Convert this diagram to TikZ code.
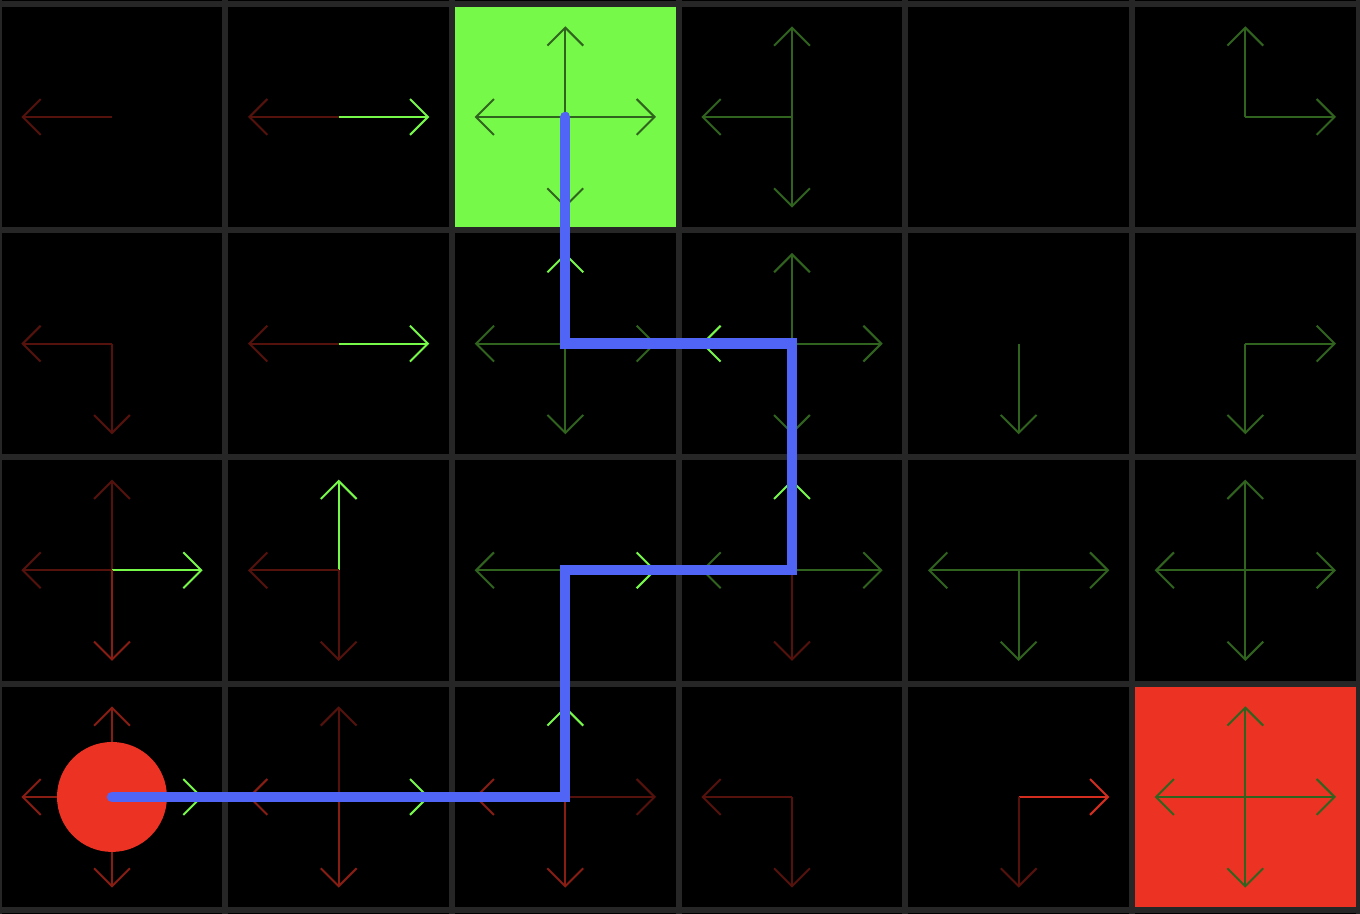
\documentclass[tikz,border=0pt]{standalone}
\usepackage{xcolor}
\usepackage{tikz}
\usetikzlibrary{arrows.meta}

\definecolor{gridgray}{RGB}{38,38,38}
\definecolor{goalgreen}{RGB}{119,249,74}
\definecolor{pitred}{RGB}{235,50,35}
\definecolor{pathblue}{RGB}{80,100,245}
\colorlet{redlo}{pitred!36!black}
\colorlet{redmid}{pitred!58!black}
\colorlet{redhi}{pitred!90!black}
\colorlet{grnlo}{goalgreen!40!black}
\colorlet{grnhi}{goalgreen}

\begin{document}
\begin{tikzpicture}[x=2cm, y=2cm,
    % Styles
    cellfill/.style={rectangle, draw=none, minimum size=2cm, inner sep=0pt},
    gridline/.style={gridgray, line width=1.5pt},
    qarrow/.style={line width=0.5pt, -{Straight Barb[length=4.5pt, width=9pt]}},
    agent/.style={circle, fill=pitred, minimum size=0.97cm, inner sep=0pt},
    route/.style={pathblue, line width=2.6pt, line cap=round}
  ]
    % === Background ===
    \useasboundingbox (0.006,-0.016) rectangle (6.006,4.016);
    \fill[black] (0,-0.016) rectangle (6.006,4.016);

    % === Cell centres ===
    \foreach \c in {0,...,5}
      \foreach \r in {0,...,3}
        \coordinate (c\c\r) at (\c+0.5, 3.5-\r);

    % === Goal and pit cells ===
    \node[cellfill, fill=goalgreen] (goal) at (c20) {};
    \node[cellfill, fill=pitred] (pit) at (c53) {};

    % === Grid ===
    \foreach \x in {0,...,6}
      \draw[gridline] (\x,-0.016) -- (\x,4.016);
    \foreach \y in {0,...,4}
      \draw[gridline] (0,\y) -- (6.006,\y);

    % === Action arrows (cell/row/direction/colour) ===
    \foreach \c/\r/\dir/\col in {
        0/0/180/redlo,
        1/0/180/redlo, 1/0/0/grnhi,
        2/0/90/grnlo, 2/0/180/grnlo, 2/0/0/grnlo, 2/0/270/grnlo,
        3/0/90/grnlo, 3/0/180/grnlo, 3/0/270/grnlo,
        5/0/90/grnlo, 5/0/0/grnlo,
        0/1/180/redlo, 0/1/270/redlo,
        1/1/180/redlo, 1/1/0/grnhi,
        2/1/90/grnhi, 2/1/180/grnlo, 2/1/0/grnlo, 2/1/270/grnlo,
        3/1/90/grnlo, 3/1/180/grnhi, 3/1/0/grnlo, 3/1/270/grnlo,
        4/1/270/grnlo,
        5/1/0/grnlo, 5/1/270/grnlo,
        0/2/90/redlo, 0/2/180/redlo, 0/2/0/grnhi, 0/2/270/redmid,
        1/2/90/grnhi, 1/2/180/redlo, 1/2/270/redlo,
        2/2/180/grnlo, 2/2/0/grnhi,
        3/2/90/grnhi, 3/2/180/grnlo, 3/2/0/grnlo, 3/2/270/redlo,
        4/2/180/grnlo, 4/2/0/grnlo, 4/2/270/grnlo,
        5/2/90/grnlo, 5/2/180/grnlo, 5/2/0/grnlo, 5/2/270/grnlo,
        0/3/90/redmid, 0/3/180/redmid, 0/3/0/grnhi, 0/3/270/redmid,
        1/3/90/redlo, 1/3/180/redmid, 1/3/0/grnhi, 1/3/270/redmid,
        2/3/90/grnhi, 2/3/180/redmid, 2/3/0/redlo, 2/3/270/redmid,
        3/3/180/redlo, 3/3/270/redlo,
        4/3/0/redhi, 4/3/270/redlo,
        5/3/90/grnlo, 5/3/180/grnlo, 5/3/0/grnlo, 5/3/270/grnlo}
      \draw[qarrow, color=\col] (c\c\r) -- ++(\dir:0.4);

    % === Agent ===
    \node[agent] (agent) at (c03) {};

    % === Route to the goal ===
    \draw[route] (agent.center) -- (c23) -- (c22) -- (c32) -- (c31) -- (c21) -- (goal.center);

  \end{tikzpicture}
\end{document}
